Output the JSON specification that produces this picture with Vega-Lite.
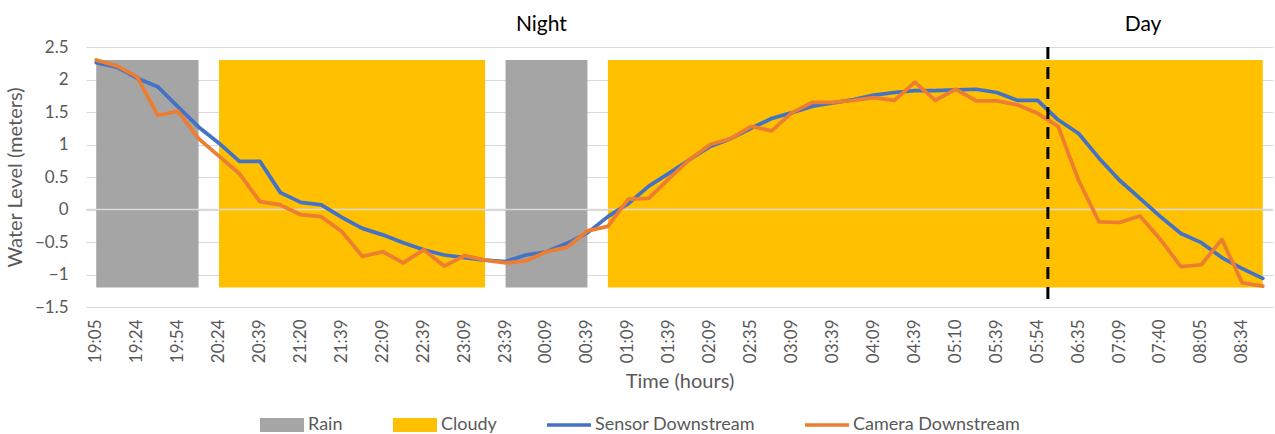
{
  "$schema": "https://vega.github.io/schema/vega-lite/v6.json",
  "width": 1187,
  "height": 260,
  "autosize": {"type": "none"},
  "padding": {"left": 86, "top": 47, "right": 2, "bottom": 127},
  "background": "white",
  "config": {
    "view": {"stroke": null},
    "font": "Lato",
    "axisY": {
      "grid": true,
      "gridColor": "#D9D9D9",
      "gridWidth": 1,
      "domain": false,
      "ticks": false,
      "labelOverlap": false,
      "labelPadding": 18,
      "labelFontSize": 17,
      "labelColor": "#595959",
      "titleFontSize": 20,
      "titleFontWeight": "normal",
      "titleColor": "#595959",
      "titlePadding": 9
    },
    "axisX": {
      "grid": false,
      "domain": false,
      "ticks": false,
      "labelOverlap": false,
      "labelAngle": 270,
      "labelPadding": 12,
      "labelFontSize": 17,
      "labelColor": "#595959",
      "titleFontSize": 20,
      "titleFontWeight": "normal",
      "titleColor": "#595959",
      "titlePadding": 9
    }
  },
  "datasets": {
    "levels": [
      {"t": "19:05", "sensor": 2.26, "camera": 2.30},
      {"t": "19:14", "sensor": 2.19, "camera": 2.21},
      {"t": "19:24", "sensor": 2.02, "camera": 2.04},
      {"t": "19:39", "sensor": 1.89, "camera": 1.45},
      {"t": "19:54", "sensor": 1.58, "camera": 1.51},
      {"t": "20:09", "sensor": 1.27, "camera": 1.09},
      {"t": "20:24", "sensor": 1.02, "camera": 0.82},
      {"t": "20:31", "sensor": 0.74, "camera": 0.55},
      {"t": "20:39", "sensor": 0.74, "camera": 0.12},
      {"t": "21:09", "sensor": 0.26, "camera": 0.07},
      {"t": "21:20", "sensor": 0.11, "camera": -0.08},
      {"t": "21:29", "sensor": 0.07, "camera": -0.11},
      {"t": "21:39", "sensor": -0.12, "camera": -0.34},
      {"t": "21:54", "sensor": -0.29, "camera": -0.72},
      {"t": "22:09", "sensor": -0.39, "camera": -0.65},
      {"t": "22:24", "sensor": -0.51, "camera": -0.82},
      {"t": "22:39", "sensor": -0.62, "camera": -0.62},
      {"t": "22:54", "sensor": -0.70, "camera": -0.87},
      {"t": "23:09", "sensor": -0.74, "camera": -0.71},
      {"t": "23:24", "sensor": -0.78, "camera": -0.78},
      {"t": "23:39", "sensor": -0.80, "camera": -0.82},
      {"t": "23:54", "sensor": -0.70, "camera": -0.79},
      {"t": "00:09", "sensor": -0.65, "camera": -0.65},
      {"t": "00:24", "sensor": -0.52, "camera": -0.58},
      {"t": "00:39", "sensor": -0.36, "camera": -0.33},
      {"t": "00:54", "sensor": -0.11, "camera": -0.26},
      {"t": "01:09", "sensor": 0.09, "camera": 0.16},
      {"t": "01:24", "sensor": 0.36, "camera": 0.17},
      {"t": "01:39", "sensor": 0.56, "camera": 0.48},
      {"t": "01:54", "sensor": 0.77, "camera": 0.77},
      {"t": "02:09", "sensor": 0.97, "camera": 1.00},
      {"t": "02:20", "sensor": 1.09, "camera": 1.09},
      {"t": "02:35", "sensor": 1.25, "camera": 1.28},
      {"t": "02:54", "sensor": 1.40, "camera": 1.21},
      {"t": "03:09", "sensor": 1.49, "camera": 1.49},
      {"t": "03:24", "sensor": 1.59, "camera": 1.65},
      {"t": "03:39", "sensor": 1.64, "camera": 1.65},
      {"t": "03:54", "sensor": 1.69, "camera": 1.68},
      {"t": "04:09", "sensor": 1.76, "camera": 1.72},
      {"t": "04:24", "sensor": 1.80, "camera": 1.68},
      {"t": "04:39", "sensor": 1.83, "camera": 1.96},
      {"t": "04:54", "sensor": 1.83, "camera": 1.68},
      {"t": "05:10", "sensor": 1.84, "camera": 1.85},
      {"t": "05:24", "sensor": 1.85, "camera": 1.67},
      {"t": "05:39", "sensor": 1.80, "camera": 1.67},
      {"t": "05:46", "sensor": 1.68, "camera": 1.61},
      {"t": "05:54", "sensor": 1.68, "camera": 1.48},
      {"t": "06:20", "sensor": 1.38, "camera": 1.28},
      {"t": "06:35", "sensor": 1.17, "camera": 0.45},
      {"t": "06:54", "sensor": 0.79, "camera": -0.19},
      {"t": "07:09", "sensor": 0.45, "camera": -0.20},
      {"t": "07:24", "sensor": 0.17, "camera": -0.10},
      {"t": "07:40", "sensor": -0.11, "camera": -0.46},
      {"t": "07:54", "sensor": -0.37, "camera": -0.88},
      {"t": "08:05", "sensor": -0.51, "camera": -0.85},
      {"t": "08:20", "sensor": -0.74, "camera": -0.46},
      {"t": "08:34", "sensor": -0.91, "camera": -1.13},
      {"t": "08:49", "sensor": -1.06, "camera": -1.18}
    ],
    "conditions": [
      {"t": "19:05", "cond": "rain", "seg": 1, "hi": 2.3, "lo": -1.2},
      {"t": "19:14", "cond": "rain", "seg": 1, "hi": 2.3, "lo": -1.2},
      {"t": "19:24", "cond": "rain", "seg": 1, "hi": 2.3, "lo": -1.2},
      {"t": "19:39", "cond": "rain", "seg": 1, "hi": 2.3, "lo": -1.2},
      {"t": "19:54", "cond": "rain", "seg": 1, "hi": 2.3, "lo": -1.2},
      {"t": "20:09", "cond": "rain", "seg": 1, "hi": 2.3, "lo": -1.2},
      {"t": "20:24", "cond": "cloudy", "seg": 2, "hi": 2.3, "lo": -1.2},
      {"t": "20:31", "cond": "cloudy", "seg": 2, "hi": 2.3, "lo": -1.2},
      {"t": "20:39", "cond": "cloudy", "seg": 2, "hi": 2.3, "lo": -1.2},
      {"t": "21:09", "cond": "cloudy", "seg": 2, "hi": 2.3, "lo": -1.2},
      {"t": "21:20", "cond": "cloudy", "seg": 2, "hi": 2.3, "lo": -1.2},
      {"t": "21:29", "cond": "cloudy", "seg": 2, "hi": 2.3, "lo": -1.2},
      {"t": "21:39", "cond": "cloudy", "seg": 2, "hi": 2.3, "lo": -1.2},
      {"t": "21:54", "cond": "cloudy", "seg": 2, "hi": 2.3, "lo": -1.2},
      {"t": "22:09", "cond": "cloudy", "seg": 2, "hi": 2.3, "lo": -1.2},
      {"t": "22:24", "cond": "cloudy", "seg": 2, "hi": 2.3, "lo": -1.2},
      {"t": "22:39", "cond": "cloudy", "seg": 2, "hi": 2.3, "lo": -1.2},
      {"t": "22:54", "cond": "cloudy", "seg": 2, "hi": 2.3, "lo": -1.2},
      {"t": "23:09", "cond": "cloudy", "seg": 2, "hi": 2.3, "lo": -1.2},
      {"t": "23:24", "cond": "cloudy", "seg": 2, "hi": 2.3, "lo": -1.2},
      {"t": "23:39", "cond": "rain", "seg": 3, "hi": 2.3, "lo": -1.2},
      {"t": "23:54", "cond": "rain", "seg": 3, "hi": 2.3, "lo": -1.2},
      {"t": "00:09", "cond": "rain", "seg": 3, "hi": 2.3, "lo": -1.2},
      {"t": "00:24", "cond": "rain", "seg": 3, "hi": 2.3, "lo": -1.2},
      {"t": "00:39", "cond": "rain", "seg": 3, "hi": 2.3, "lo": -1.2},
      {"t": "00:54", "cond": "cloudy", "seg": 4, "hi": 2.3, "lo": -1.2},
      {"t": "01:09", "cond": "cloudy", "seg": 4, "hi": 2.3, "lo": -1.2},
      {"t": "01:24", "cond": "cloudy", "seg": 4, "hi": 2.3, "lo": -1.2},
      {"t": "01:39", "cond": "cloudy", "seg": 4, "hi": 2.3, "lo": -1.2},
      {"t": "01:54", "cond": "cloudy", "seg": 4, "hi": 2.3, "lo": -1.2},
      {"t": "02:09", "cond": "cloudy", "seg": 4, "hi": 2.3, "lo": -1.2},
      {"t": "02:20", "cond": "cloudy", "seg": 4, "hi": 2.3, "lo": -1.2},
      {"t": "02:35", "cond": "cloudy", "seg": 4, "hi": 2.3, "lo": -1.2},
      {"t": "02:54", "cond": "cloudy", "seg": 4, "hi": 2.3, "lo": -1.2},
      {"t": "03:09", "cond": "cloudy", "seg": 4, "hi": 2.3, "lo": -1.2},
      {"t": "03:24", "cond": "cloudy", "seg": 4, "hi": 2.3, "lo": -1.2},
      {"t": "03:39", "cond": "cloudy", "seg": 4, "hi": 2.3, "lo": -1.2},
      {"t": "03:54", "cond": "cloudy", "seg": 4, "hi": 2.3, "lo": -1.2},
      {"t": "04:09", "cond": "cloudy", "seg": 4, "hi": 2.3, "lo": -1.2},
      {"t": "04:24", "cond": "cloudy", "seg": 4, "hi": 2.3, "lo": -1.2},
      {"t": "04:39", "cond": "cloudy", "seg": 4, "hi": 2.3, "lo": -1.2},
      {"t": "04:54", "cond": "cloudy", "seg": 4, "hi": 2.3, "lo": -1.2},
      {"t": "05:10", "cond": "cloudy", "seg": 4, "hi": 2.3, "lo": -1.2},
      {"t": "05:24", "cond": "cloudy", "seg": 4, "hi": 2.3, "lo": -1.2},
      {"t": "05:39", "cond": "cloudy", "seg": 4, "hi": 2.3, "lo": -1.2},
      {"t": "05:46", "cond": "cloudy", "seg": 4, "hi": 2.3, "lo": -1.2},
      {"t": "05:54", "cond": "cloudy", "seg": 4, "hi": 2.3, "lo": -1.2},
      {"t": "06:20", "cond": "cloudy", "seg": 4, "hi": 2.3, "lo": -1.2},
      {"t": "06:35", "cond": "cloudy", "seg": 4, "hi": 2.3, "lo": -1.2},
      {"t": "06:54", "cond": "cloudy", "seg": 4, "hi": 2.3, "lo": -1.2},
      {"t": "07:09", "cond": "cloudy", "seg": 4, "hi": 2.3, "lo": -1.2},
      {"t": "07:24", "cond": "cloudy", "seg": 4, "hi": 2.3, "lo": -1.2},
      {"t": "07:40", "cond": "cloudy", "seg": 4, "hi": 2.3, "lo": -1.2},
      {"t": "07:54", "cond": "cloudy", "seg": 4, "hi": 2.3, "lo": -1.2},
      {"t": "08:05", "cond": "cloudy", "seg": 4, "hi": 2.3, "lo": -1.2},
      {"t": "08:20", "cond": "cloudy", "seg": 4, "hi": 2.3, "lo": -1.2},
      {"t": "08:34", "cond": "cloudy", "seg": 4, "hi": 2.3, "lo": -1.2},
      {"t": "08:49", "cond": "cloudy", "seg": 4, "hi": 2.3, "lo": -1.2}
    ]
  },
  "layer": [
    {
      "data": {"name": "conditions"},
      "mark": {"type": "area", "opacity": 1},
      "encoding": {
        "x": {
          "field": "t",
          "type": "ordinal",
          "bandPosition": 0.5,
          "title": "Time (hours)",
          "scale": {
            "type": "band",
            "paddingInner": 0,
            "paddingOuter": 0,
            "domain": ["19:05","19:14","19:24","19:39","19:54","20:09","20:24","20:31","20:39","21:09","21:20","21:29","21:39","21:54","22:09","22:24","22:39","22:54","23:09","23:24","23:39","23:54","00:09","00:24","00:39","00:54","01:09","01:24","01:39","01:54","02:09","02:20","02:35","02:54","03:09","03:24","03:39","03:54","04:09","04:24","04:39","04:54","05:10","05:24","05:39","05:46","05:54","06:20","06:35","06:54","07:09","07:24","07:40","07:54","08:05","08:20","08:34","08:49"]
          },
          "axis": {
            "labelOverlap": false,
            "values": ["19:05","19:24","19:54","20:24","20:39","21:20","21:39","22:09","22:39","23:09","23:39","00:09","00:39","01:09","01:39","02:09","02:35","03:09","03:39","04:09","04:39","05:10","05:39","05:54","06:35","07:09","07:40","08:05","08:34"]
          }
        },
        "y": {
          "field": "hi",
          "type": "quantitative",
          "title": "Water Level (meters)",
          "scale": {"domain": [-1.5, 2.5], "nice": false, "zero": false},
          "axis": {
            "values": [-1.5, -1, -0.5, 0, 0.5, 1, 1.5, 2, 2.5],
            "tickCount": 12,
            "format": "~g",
            "labelOverlap": false,
            "labelBound": false,
            "labelFlush": false
          }
        },
        "y2": {"field": "lo"},
        "detail": {"field": "seg"},
        "color": {
          "field": "cond",
          "type": "nominal",
          "scale": {
            "domain": ["rain", "cloudy", "sensor", "camera"],
            "range": ["#A5A5A5", "#FFC000", "#4472C4", "#ED7D31"]
          },
          "legend": {
            "title": null,
            "orient": "none",
            "direction": "horizontal",
            "columns": 4,
            "legendX": 174,
            "legendY": 356,
            "columnPadding": 50,
            "labelOffset": 4,
            "labelLimit": 400,
            "symbolSize": 1936,
            "symbolStrokeWidth": 0,
            "symbolOpacity": 1,
            "symbolType": {"expr": "indexof(['rain', 'cloudy'], datum.value) >= 0 ? 'M-1,-0.32H1V0.32H-1Z' : 'M-1,-0.08H1V0.08H-1Z'"},
            "labelFontSize": 18,
            "labelColor": "#595959",
            "labelExpr": "{'rain': 'Rain', 'cloudy': 'Cloudy', 'sensor': 'Sensor Downstream', 'camera': 'Camera Downstream'}[datum.label]"
          }
        }
      }
    },
    {
      "data": {"values": [{"level": 0}]},
      "mark": {"type": "rule", "color": "#D9D9D9", "strokeWidth": 1.5},
      "encoding": {"y": {"field": "level", "type": "quantitative"}}
    },
    {
      "data": {"name": "levels"},
      "mark": {"type": "line", "strokeWidth": 3.75, "strokeJoin": "round", "strokeCap": "round"},
      "encoding": {
        "x": {"field": "t", "type": "ordinal", "bandPosition": 0.5},
        "y": {"field": "sensor", "type": "quantitative"},
        "color": {"datum": "sensor"}
      }
    },
    {
      "data": {"name": "levels"},
      "mark": {"type": "line", "strokeWidth": 3.75, "strokeJoin": "round", "strokeCap": "round"},
      "encoding": {
        "x": {"field": "t", "type": "ordinal", "bandPosition": 0.5},
        "y": {"field": "camera", "type": "quantitative"},
        "color": {"datum": "camera"}
      }
    },
    {
      "data": {"values": [{"t": "05:54", "top": 2.5, "bottom": -1.42}]},
      "mark": {"type": "rule", "color": "black", "strokeWidth": 3, "strokeDash": [12, 8]},
      "encoding": {
        "x": {"field": "t", "type": "ordinal", "bandPosition": 1},
        "y": {"field": "top", "type": "quantitative"},
        "y2": {"field": "bottom"}
      }
    },
    {
      "data": {"values": [{"t": "00:09", "label": "Night", "lvl": 2.84}]},
      "mark": {"type": "text", "font": "Lato", "fontSize": 21, "color": "black", "baseline": "middle", "align": "center"},
      "encoding": {
        "x": {"field": "t", "type": "ordinal", "bandPosition": 0.25},
        "y": {"field": "lvl", "type": "quantitative"},
        "text": {"field": "label"}
      }
    },
    {
      "data": {"values": [{"t": "07:24", "label": "Day", "lvl": 2.84}]},
      "mark": {"type": "text", "font": "Lato", "fontSize": 21, "color": "black", "baseline": "middle", "align": "center"},
      "encoding": {
        "x": {"field": "t", "type": "ordinal", "bandPosition": 0.65},
        "y": {"field": "lvl", "type": "quantitative"},
        "text": {"field": "label"}
      }
    }
  ]
}
